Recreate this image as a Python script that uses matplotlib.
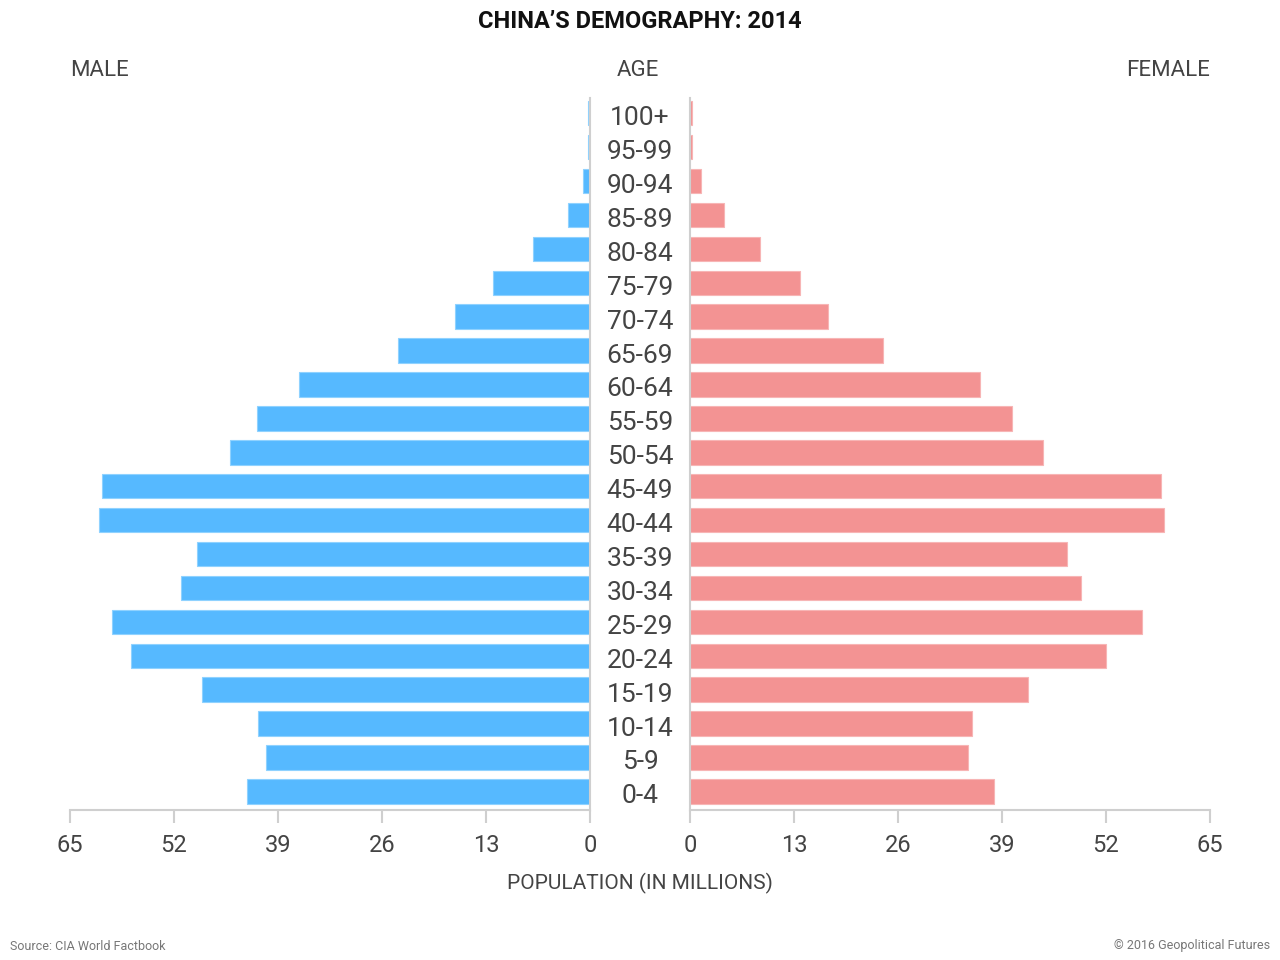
import numpy as np
import matplotlib
matplotlib.use("Agg")
import matplotlib.pyplot as plt

plt.rcParams['font.family'] = ['Roboto', 'DejaVu Sans']

# Age groups, youngest first (bottom of the pyramid)
ages = ["0-4", "5-9", "10-14", "15-19", "20-24", "25-29", "30-34", "35-39",
        "40-44", "45-49", "50-54", "55-59", "60-64", "65-69", "70-74",
        "75-79", "80-84", "85-89", "90-94", "95-99", "100+"]

# population in millions
male = [42.9, 40.5, 41.5, 48.5, 57.4, 59.7, 51.1, 49.1, 61.4, 61.0, 45.0,
        41.6, 36.4, 24.0, 16.9, 12.1, 7.1, 2.7, 0.9, 0.3, 0.3]
female = [38.0, 34.7, 35.2, 42.2, 52.0, 56.5, 48.9, 47.1, 59.2, 58.9, 44.1,
          40.2, 36.2, 24.1, 17.2, 13.7, 8.7, 4.2, 1.4, 0.3, 0.3]

ticks = [0, 13, 26, 39, 52, 65]

male_col = "#56b9ff"
female_col = "#f39393"
grey = "#cfcfcf"
txt = "#444444"

fig = plt.figure(figsize=(12.8, 9.6), dpi=100)
bottom = 1 - 810 / 960
height = (810 - 98) / 960
axL = fig.add_axes([70 / 1280, bottom, 520 / 1280, height])
axR = fig.add_axes([690 / 1280, bottom, 520 / 1280, height])

y = np.arange(len(ages))
axL.barh(y, male, height=0.72, color=male_col, edgecolor="#8fd2ff", linewidth=0.8)
axR.barh(y, female, height=0.72, color=female_col, edgecolor="#f7b5b5", linewidth=0.8)

axL.set_xlim(65, 0)
axR.set_xlim(0, 65)
for ax in (axL, axR):
    ax.set_ylim(-0.55, 20.45)
    ax.set_yticks([])
    ax.set_xticks(ticks)
    ax.set_xticklabels([str(t) for t in ticks])
    ax.tick_params(axis="x", direction="out", length=9, width=1.5, color=grey,
                   labelsize=17, labelcolor=txt, pad=8.5)
    ax.spines["top"].set_visible(False)
    ax.spines["bottom"].set_color(grey)
    ax.spines["bottom"].set_linewidth(1.5)
axL.spines["left"].set_visible(False)
axL.spines["right"].set_color(grey)
axL.spines["right"].set_linewidth(1.5)
axR.spines["right"].set_visible(False)
axR.spines["left"].set_color(grey)
axR.spines["left"].set_linewidth(1.5)

# age labels in the gap between the two halves
for i, a in enumerate(ages):
    yy = axL.transData.transform((0, i))[1] - 5
    fig.text(640 / 1280, yy / fig.dpi / 9.6, a, ha="center", va="center",
             fontsize=19, color=txt)

fig.text(0.5, 1 - 21 / 960, "CHINA\u2019S DEMOGRAPHY: 2014", ha="center", va="center",
         fontsize=17, fontweight="bold", color="#111111")
fig.text(70 / 1280, 1 - 71 / 960, "MALE", ha="left", va="center", fontsize=16, color=txt)
fig.text(638 / 1280, 1 - 71 / 960, "AGE", ha="center", va="center", fontsize=16, color=txt)
fig.text(1210 / 1280, 1 - 71 / 960, "FEMALE", ha="right", va="center", fontsize=16, color=txt)
fig.text(0.5, 1 - 883 / 960, "POPULATION (IN MILLIONS)", ha="center", va="center",
         fontsize=15, color=txt)
fig.text(10 / 1280, 1 - 946 / 960, "Source: CIA World Factbook", ha="left", va="center",
         fontsize=9, color="#777777")
fig.text(1270 / 1280, 1 - 946 / 960, "\u00a9 2016 Geopolitical Futures", ha="right",
         va="center", fontsize=9, color="#777777")

fig.savefig("out.png", dpi=100)
